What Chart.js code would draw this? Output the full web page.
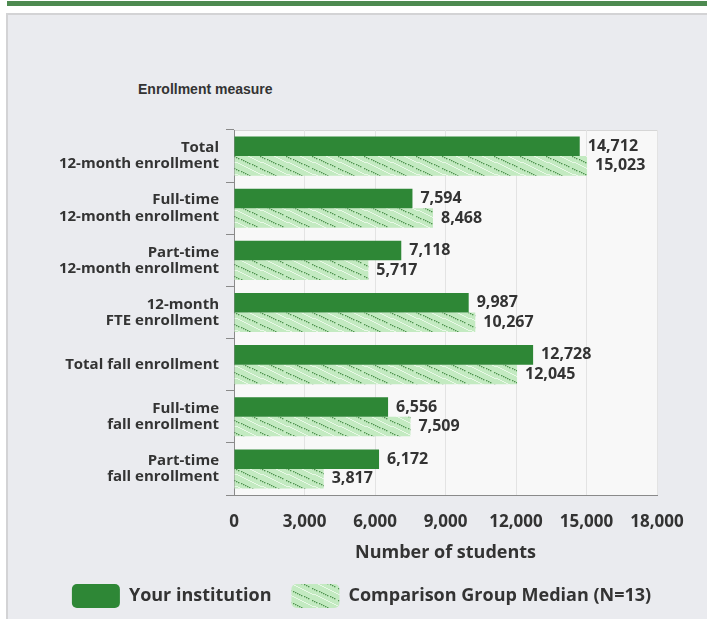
<!DOCTYPE html>
<html>
<head>
<meta charset="utf-8">
<script src="https://cdn.jsdelivr.net/npm/chart.js@4.4.1/dist/chart.umd.min.js"></script>
<style>
body { margin: 0; background: #fff; width: 707px; height: 619px; overflow: hidden; position: relative; font-family: "Open Sans", sans-serif; }
#topbar { position: absolute; left: 7px; top: 1px; width: 700px; height: 5px; background: #4d8a50; }
#panel { position: absolute; left: 6px; top: 13px; width: 720px; height: 640px; background: #eaebef; border: 2px solid #d3d3d5; }
#title { position: absolute; left: 138px; top: 81px; font: bold 14px "Liberation Sans"; color: #333; }
#chart { position: absolute; left: 0; top: 0; }
</style>
</head>
<body>
<div id="topbar"></div>
<div id="panel"></div>
<div id="title">Enrollment measure</div>
<canvas id="chart" width="707" height="618"></canvas>
<script>
var measures = [
	["Total", "12-month enrollment"],
	["Full-time", "12-month enrollment"],
	["Part-time", "12-month enrollment"],
	["12-month", "FTE enrollment"],
	"Total fall enrollment",
	["Full-time", "fall enrollment"],
	["Part-time", "fall enrollment"]
];
var institution = [14712, 7594, 7118, 9987, 12728, 6556, 6172];
var groupMedian = [15023, 8468, 5717, 10267, 12045, 7509, 3817];
var xTicks = [0, 3000, 6000, 9000, 12000, 15000, 18000];

var textColor = '#333';

function make_hatch(){
	var c = document.createElement('canvas');
	c.width = 26; c.height = 12;
	var g = c.getContext('2d');
	g.fillStyle = '#c3eac1';
	g.fillRect(0, 0, 26, 12);
	g.fillStyle = 'rgba(238,250,236,0.85)';
	for(var i = 0; i < 26; i += 2){
		g.fillRect(i, Math.floor(i * 12 / 26 + 6) % 12, 2, 1);
	}
	g.fillStyle = '#4f934f';
	for(var i = 0; i < 22; i += 2.2){
		g.fillRect(Math.round(i), Math.round(i * 12 / 26), 1.4, 1.3);
	}
	return g.createPattern(c, 'repeat');
}
var hatch = make_hatch();

// plot background and light frame
var plotBg = {
	id: 'plotBg',
	beforeDraw: function(chart){
		var a = chart.chartArea, ctx = chart.ctx;
		ctx.save();
		ctx.fillStyle = '#f8f8f8';
		ctx.fillRect(a.left, a.top, a.right - a.left, a.bottom - a.top);
		ctx.strokeStyle = '#d6d6d6';
		ctx.lineWidth = 1;
		ctx.beginPath();
		ctx.moveTo(a.left, a.top + 0.5);
		ctx.lineTo(a.right + 0.5, a.top + 0.5);
		ctx.lineTo(a.right + 0.5, a.bottom);
		ctx.stroke();
		ctx.restore();
	}
};

// legend sits a bit right of the canvas centre
var legendShift = {
	id: 'legendShift',
	afterLayout: function(chart){
		if(chart.legend){
			chart.legend.left += 33;
			chart.legend.right += 33;
		}
	}
};

// value labels at the bar ends
var valueLabels = {
	id: 'valueLabels',
	afterDatasetsDraw: function(chart){
		var ctx = chart.ctx;
		ctx.save();
		ctx.font = 'bold 16px "Open Sans"';
		ctx.fillStyle = textColor;
		ctx.textBaseline = 'middle';
		ctx.textAlign = 'left';
		chart.data.datasets.forEach(function(ds, di){
			chart.getDatasetMeta(di).data.forEach(function(bar, i){
				ctx.fillText(ds.data[i].toLocaleString('en-US'), bar.x + 8, bar.y);
			});
		});
		ctx.restore();
	}
};

var ctx = document.getElementById('chart').getContext('2d');
new Chart(ctx, {
	type: 'bar',
	data: {
		labels: measures,
		datasets: [
			{label: 'Your institution', data: institution, backgroundColor: '#2e8736', borderWidth: 0},
			{label: 'Comparison Group Median (N=13)', data: groupMedian, backgroundColor: hatch, borderWidth: 0}
		]
	},
	options: {
		indexAxis: 'y',
		responsive: false,
		animation: false,
		categoryPercentage: 0.75,
		barPercentage: 1,
		layout: {padding: {top: 130, right: 50, left: 0, bottom: 0}},
		scales: {
			x: {
				min: xTicks[0],
				max: xTicks[xTicks.length - 1],
				afterFit: function(s){ s.height = 69; },
				afterBuildTicks: function(s){ s.ticks = xTicks.map(function(v){ return {value: v}; }); },
				ticks: {
					callback: function(v){ return v.toLocaleString('en-US'); },
					font: {family: 'Open Sans', size: 17, weight: 'bold'},
					color: textColor,
					padding: 17
				},
				grid: {color: '#e3e3e3', drawTicks: false},
				border: {color: '#8a8a8a', width: 1},
				title: {
					display: true,
					text: 'Number of students',
					font: {family: 'Open Sans', size: 18, weight: 'bold'},
					color: textColor,
					padding: {top: 4, bottom: 0}
				}
			},
			y: {
				afterFit: function(s){ s.width = 234; },
				ticks: {
					font: {family: 'Open Sans', size: 15, weight: 'bold', lineHeight: 1.07},
					color: textColor,
					padding: 7
				},
				grid: {drawOnChartArea: false, tickLength: 8, color: '#8a8a8a'},
				border: {color: '#8a8a8a', width: 1}
			}
		},
		plugins: {
			legend: {
				position: 'bottom',
				labels: {
					boxWidth: 48,
					boxHeight: 24,
					useBorderRadius: true,
					borderRadius: 5,
					padding: 20,
					color: textColor,
					font: {family: 'Open Sans', size: 18, weight: 'bold'}
				}
			},
			tooltip: {enabled: false}
		}
	},
	plugins: [plotBg, legendShift, valueLabels]
});
</script>
</body>
</html>
